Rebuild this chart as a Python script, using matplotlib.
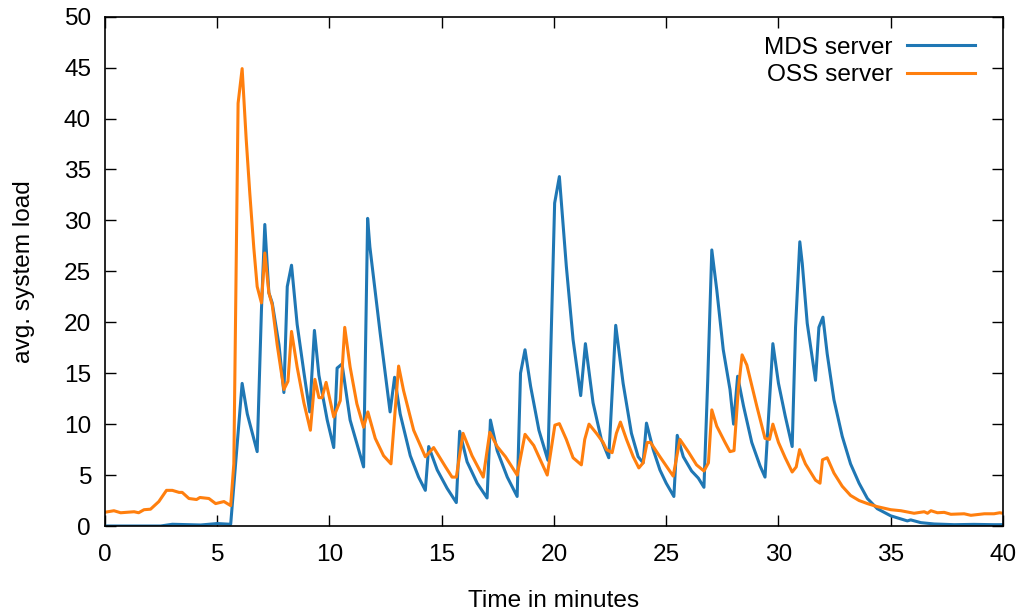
import numpy as np
import matplotlib
matplotlib.use('Agg')
import matplotlib.pyplot as plt

## data (vertices of the polylines)

mds_t = [0.0, 2.48, 3.0, 4.26, 5.0, 5.6, 6.11, 6.34, 6.78, 6.97, 7.12, 7.3, 7.45, 7.75, 7.97,
         8.12, 8.31, 8.56, 8.86, 9.12, 9.33, 9.53, 9.9, 10.19, 10.34, 10.56, 10.92, 11.52,
         11.7, 11.8, 12.26, 12.7, 12.9, 13.15, 13.6, 13.97, 14.27, 14.42, 14.8, 15.24, 15.65,
         15.8, 16.13, 16.58, 17.02, 17.17, 17.47, 17.92, 18.36, 18.51, 18.71, 18.96, 19.33,
         19.73, 20.03, 20.24, 20.55, 20.85, 21.19, 21.4, 21.74, 22.11, 22.44, 22.75, 23.08,
         23.45, 23.75, 23.97, 24.12, 24.42, 24.72, 25.0, 25.34, 25.49, 25.76, 26.13, 26.43,
         26.68, 26.85, 27.03, 27.25, 27.54, 27.84, 28.0, 28.18, 28.44, 28.81, 29.18, 29.4,
         29.75, 30.0, 30.3, 30.61, 30.76, 30.95, 31.06, 31.28, 31.65, 31.8, 31.98, 32.17,
         32.47, 32.84, 33.21, 33.59, 33.96, 34.4, 35.0, 35.74, 35.89, 36.34, 36.93, 37.83,
         38.7, 39.6, 40.0]
mds_load = [0.0, 0.0, 0.17, 0.1, 0.24, 0.17, 14.0, 11.0, 7.3, 21.2, 29.6, 22.9, 21.9, 17.8, 13.1,
            23.5, 25.6, 19.8, 15.1, 11.2, 19.2, 14.8, 10.4, 7.7, 15.5, 15.9, 10.4, 5.8,
            30.2, 27.4, 18.9, 11.2, 14.6, 11.0, 6.9, 4.8, 3.5, 7.8, 5.5, 3.7, 2.3,
            9.3, 6.3, 4.2, 2.75, 10.4, 7.4, 4.8, 2.9, 15.0, 17.3, 13.7, 9.4,
            6.45, 31.7, 34.3, 25.5, 18.3, 12.8, 17.9, 12.1, 8.5, 6.7, 19.7, 14.0,
            9.1, 6.8, 6.2, 10.1, 7.5, 5.5, 4.2, 2.9, 8.9, 6.8, 5.4, 4.7,
            3.8, 14.4, 27.1, 23.2, 17.3, 13.4, 10.0, 14.7, 11.8, 8.2, 5.9, 4.8,
            17.9, 14.0, 10.8, 7.8, 19.5, 27.9, 25.75, 19.9, 14.3, 19.5, 20.5, 16.9,
            12.4, 8.8, 6.1, 4.2, 2.7, 1.7, 1.0, 0.5, 0.6, 0.33, 0.2, 0.13,
            0.16, 0.13, 0.13]

oss_t = [0.0, 0.4, 0.7, 1.3, 1.5, 1.74, 2.03, 2.4, 2.74, 3.0, 3.3, 3.44, 3.74, 4.08, 4.23,
         4.63, 4.93, 5.3, 5.6, 5.74, 5.93, 6.11, 6.29, 6.45, 6.63, 6.78, 6.97, 7.12, 7.3,
         7.45, 7.67, 7.97, 8.15, 8.31, 8.56, 8.86, 9.15, 9.35, 9.53, 9.67, 9.85, 10.19,
         10.48, 10.68, 10.92, 11.22, 11.52, 11.71, 12.04, 12.41, 12.74, 13.08, 13.3, 13.75,
         14.27, 14.64, 15.17, 15.46, 15.65, 15.95, 16.35, 16.85, 17.14, 17.47, 17.84, 18.36,
         18.71, 19.1, 19.7, 20.04, 20.24, 20.55, 20.85, 21.22, 21.37, 21.56, 21.89, 22.19,
         22.34, 22.59, 22.78, 22.96, 23.23, 23.53, 23.78, 23.97, 24.15, 24.3, 24.72, 25.0,
         25.31, 25.61, 25.98, 26.35, 26.68, 26.88, 27.03, 27.25, 27.62, 27.84, 28.02, 28.21,
         28.38, 28.59, 29.03, 29.4, 29.6, 29.75, 30.0, 30.3, 30.61, 30.79, 30.94, 31.2,
         31.65, 31.85, 31.96, 32.17, 32.47, 32.84, 33.21, 33.59, 33.96, 34.4, 35.0, 35.45,
         36.04, 36.49, 36.64, 36.79, 37.08, 37.38, 37.68, 38.27, 38.57, 39.17, 39.6, 39.85,
         40.0]
oss_load = [1.35, 1.5, 1.3, 1.4, 1.3, 1.6, 1.65, 2.4, 3.5, 3.5, 3.3, 3.3, 2.7, 2.6, 2.8,
            2.7, 2.2, 2.4, 2.0, 6.1, 41.5, 44.9, 38.0, 32.7, 27.3, 23.5, 21.9, 26.8, 22.9,
            21.7, 17.8, 13.4, 14.2, 19.1, 15.6, 12.1, 9.4, 14.4, 12.6, 12.6, 14.1, 10.7,
            12.3, 19.5, 15.6, 12.0, 9.7, 11.2, 8.6, 6.9, 6.1, 15.7, 13.3, 9.4,
            6.8, 7.7, 5.8, 4.8, 4.8, 9.1, 6.9, 4.8, 9.2, 7.8, 6.8, 5.0,
            9.0, 7.9, 5.0, 9.9, 10.05, 8.5, 6.7, 6.0, 8.5, 10.0, 9.1, 8.2,
            7.5, 7.2, 9.1, 10.2, 8.5, 6.8, 5.7, 6.2, 8.2, 8.2, 6.8, 5.9,
            4.9, 8.5, 7.3, 6.0, 5.4, 6.2, 11.4, 9.8, 8.2, 7.3, 7.4, 13.4,
            16.8, 15.8, 11.8, 8.6, 8.5, 10.0, 8.2, 6.7, 5.3, 5.8, 7.5, 6.1,
            4.5, 4.2, 6.5, 6.7, 5.2, 3.9, 3.0, 2.5, 2.2, 1.9, 1.6, 1.5,
            1.25, 1.4, 1.25, 1.5, 1.3, 1.34, 1.15, 1.2, 1.05, 1.2, 1.2, 1.3,
            1.25]

xticks = np.arange(0, 41, 5)
yticks = np.arange(0, 51, 5)

plt.rcParams['font.family'] = ['Liberation Sans', 'DejaVu Sans']
fs = 17.6

fig = plt.figure(figsize=(10.22, 6.10), dpi=100)
ax = fig.add_axes([0.1027, 0.1377, 0.8787, 0.835])

ax.plot(mds_t, mds_load, c='#1f77b4', lw=2.2, label='MDS server')
ax.plot(oss_t, oss_load, c='#ff7f0e', lw=2.2, label='OSS server')

ax.set_xlim(0, 40)
ax.set_ylim(0, 50)
ax.set_xticks(xticks)
ax.set_yticks(yticks)
ax.tick_params(direction='in', top=True, right=True, labelsize=fs, length=8, width=1)
ax.tick_params(axis='x', pad=13)
ax.tick_params(axis='y', pad=10)
for sp in ax.spines.values():
    sp.set_linewidth(1.2)

ax.set_xlabel('Time in minutes', fontsize=fs, labelpad=17)
ax.set_ylabel('avg. system load', fontsize=fs, labelpad=21)

ax.legend(loc='upper right', bbox_to_anchor=(0.969, 0.961), frameon=False, markerfirst=False,
          fontsize=fs, handlelength=2.8, handletextpad=0.57, labelspacing=0.22,
          borderpad=0, borderaxespad=0)

fig.savefig('out.png', dpi=100)
